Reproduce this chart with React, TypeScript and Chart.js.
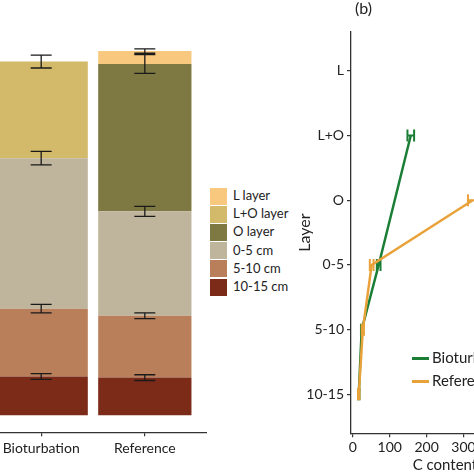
import React, { useEffect, useRef } from 'react';
import { Chart, registerables } from 'chart.js';
Chart.register(...registerables);

const FONT = 'Lato, "Open Sans", sans-serif';

// ---------- (a) stacked C stocks ----------
const stockCategories = ['Bioturbation', 'Reference'];
const stock_10_15 = [10.8, 10.5];
const stock_5_10 = [18.9, 17.2];
const stock_0_5 = [41.9, 29.1];
const stock_O = [0, 41.0];
const stock_LO = [26.9, 0];
const stock_L = [0, 3.6];
const err_10_15 = [0.8, 0.8];
const err_5_10 = [1.2, 0.8];
const err_0_5 = [1.9, 1.4];
const err_O = [null, 2.6];
const err_LO = [1.8, null];
const err_L = [null, 0.6];

const legendLabels = ['L layer', 'L+O layer', 'O layer', '0-5 cm', '5-10 cm', '10-15 cm'];
const legendColors = ['#F8C87E', '#D3BA6A', '#7E7842', '#BFB59D', '#B97F5B', '#7B2B18'];

// ---------- (b) C content profile ----------
const layerLabels = ['L', 'L+O', 'O', '0-5', '5-10', '10-15'];
const bioContent = [null, 157, null, 70, 24, 16];
const bioErr = [null, 9, null, 5, 2, 2];
const refContent = [null, null, 325, 51, 27, 16];
const refErr = [null, null, 13, 5, 3, 2];

const GREEN = '#1B7E36';
const ORANGE = '#E9A23A';

function StockChart() {
  const ref = useRef<HTMLCanvasElement>(null);
  useEffect(() => {
    const layers = [
      { label: '10-15 cm', data: stock_10_15, err: err_10_15, color: legendColors[5] },
      { label: '5-10 cm', data: stock_5_10, err: err_5_10, color: legendColors[4] },
      { label: '0-5 cm', data: stock_0_5, err: err_0_5, color: legendColors[3] },
      { label: 'O layer', data: stock_O, err: err_O, color: legendColors[2] },
      { label: 'L+O layer', data: stock_LO, err: err_LO, color: legendColors[1] },
      { label: 'L layer', data: stock_L, err: err_L, color: legendColors[0] },
    ];
    const errorPlugin = {
      id: 'stackErr',
      afterDatasetsDraw(chart: any) {
        const ctx = chart.ctx;
        const ys = chart.scales.y;
        ctx.save();
        ctx.strokeStyle = '#1a1a1a';
        ctx.lineWidth = 1.3;
        const cum = [0, 0];
        layers.forEach((l, i) => {
          const meta = chart.getDatasetMeta(i);
          l.data.forEach((v, j) => {
            cum[j] += v;
            const e = l.err[j];
            if (e == null || !v) return;
            const x = meta.data[j].x;
            const y1 = ys.getPixelForValue(cum[j] - e);
            const y2 = ys.getPixelForValue(cum[j] + e);
            ctx.beginPath();
            ctx.moveTo(x, y1); ctx.lineTo(x, y2);
            ctx.moveTo(x - 10.5, y1); ctx.lineTo(x + 10.5, y1);
            ctx.moveTo(x - 10.5, y2); ctx.lineTo(x + 10.5, y2);
            ctx.stroke();
          });
        });
        ctx.restore();
      },
    };
    const chart = new Chart(ref.current as HTMLCanvasElement, {
      type: 'bar',
      data: {
        datasets: layers.map((l) => ({
          label: l.label,
          data: l.data.map((v, j) => ({ x: j + 1, y: v })),
          backgroundColor: l.color,
          borderWidth: 0,
          barPercentage: 1,
          categoryPercentage: 0.9,
        })),
      },
      options: {
        responsive: false,
        animation: false,
        layout: { padding: { top: 31, bottom: 13, left: 0, right: 0 } },
        plugins: { legend: { display: false }, tooltip: { enabled: false } },
        scales: {
          x: {
            type: 'linear',
            stacked: true,
            min: 0.4,
            max: 2.6,
            offset: false,
            afterBuildTicks: (s: any) => {
              s.ticks = stockCategories.map((_, i) => ({ value: i + 1 }));
            },
            ticks: {
              callback: (v: any) => stockCategories[Math.round(Number(v)) - 1] ?? '',
              font: { family: FONT, size: 14 },
              color: '#222',
              padding: 4,
              maxRotation: 0,
              autoSkip: false,
            },
            grid: { display: true, offset: false, drawOnChartArea: false, drawTicks: true, tickLength: 4, color: '#333', lineWidth: 1.2 },
            border: { display: true, color: '#333', width: 1.3 },
          },
          y: { stacked: true, display: false, min: -4.7, max: 107 },
        },
      } as any,
      plugins: [errorPlugin],
    } as any);
    return () => chart.destroy();
  }, []);
  return (
    <canvas ref={ref} width={228} height={474}
      style={{ position: 'absolute', left: -21, top: 0, width: 228, height: 474 }} />
  );
}

function ContentChart() {
  const ref = useRef<HTMLCanvasElement>(null);
  useEffect(() => {
    const toPts = (vals: (number | null)[]) =>
      vals.map((v, i) => (v == null ? null : { x: v, y: i })).filter((p) => p) as { x: number; y: number }[];
    const toErr = (vals: (number | null)[], errs: (number | null)[]) =>
      vals.map((v, i) => (v == null ? null : errs[i])).filter((_, i) => vals[i] != null);
    const errSets = [toErr(bioContent, bioErr), toErr(refContent, refErr)];
    const errPlugin = {
      id: 'hErr',
      afterDatasetDraw(chart: any, args: any) {
        const i = args.index;
        const ds = chart.data.datasets[i];
        const meta = args.meta;
        const xs = chart.scales.x;
        const ctx = chart.ctx;
        ctx.save();
        ctx.strokeStyle = ds.borderColor;
        ctx.lineWidth = 2;
        meta.data.forEach((pt: any, k: number) => {
          const e = errSets[i][k];
          if (e == null) return;
          const v = ds.data[k].x;
          const x1 = xs.getPixelForValue(v - e);
          const x2 = xs.getPixelForValue(v + e);
          const y = pt.y;
          ctx.beginPath();
          ctx.moveTo(x1, y); ctx.lineTo(x2, y);
          ctx.moveTo(x1, y - 6); ctx.lineTo(x1, y + 6);
          ctx.moveTo(x2, y - 6); ctx.lineTo(x2, y + 6);
          ctx.stroke();
        });
        ctx.restore();
      },
    };
    const chart = new Chart(ref.current as HTMLCanvasElement, {
      type: 'scatter',
      data: {
        datasets: [
          { label: 'Bioturbation', data: toPts(bioContent), showLine: true, borderColor: GREEN, backgroundColor: GREEN, borderWidth: 2.5, pointRadius: 0, order: 1 },
          { label: 'Reference', data: toPts(refContent), showLine: true, borderColor: ORANGE, backgroundColor: ORANGE, borderWidth: 2.5, pointRadius: 0, order: 0 },
        ],
      },
      options: {
        responsive: false,
        animation: false,
        layout: { padding: { top: 32, left: 0, right: 0, bottom: 0 } },
        plugins: { legend: { display: false }, tooltip: { enabled: false } },
        scales: {
          x: {
            type: 'linear',
            min: -5,
            max: 640,
            ticks: { stepSize: 100, includeBounds: false, font: { family: FONT, size: 14 }, color: '#222', padding: 2, maxRotation: 0 },
            grid: { display: true, drawOnChartArea: false, drawTicks: true, tickLength: 4, color: '#333', lineWidth: 1.2 },
            border: { display: true, color: '#333', width: 1.3 },
            title: { display: true, text: 'C content [g kg⁻¹]', font: { family: FONT, size: 15, lineHeight: 1 }, color: '#222', padding: { top: 0, bottom: 0 } },
          },
          y: {
            type: 'linear',
            reverse: true,
            min: -0.6,
            max: 5.6,
            afterFit: (s: any) => { s.width = 60; },
            ticks: {
              stepSize: 1,
              includeBounds: false,
              callback: (v: any) => layerLabels[Math.round(Number(v))] ?? '',
              font: { family: FONT, size: 14 },
              color: '#222',
              padding: 3,
            },
            grid: { display: true, drawOnChartArea: false, drawTicks: true, tickLength: 4, color: '#333', lineWidth: 1.2 },
            border: { display: true, color: '#333', width: 1.3 },
            title: { display: true, text: 'Layer', font: { family: FONT, size: 16 }, color: '#222', padding: { top: 4, bottom: 4 } },
          },
        },
      } as any,
      plugins: [errPlugin],
    } as any);
    return () => chart.destroy();
  }, []);
  return (
    <canvas ref={ref} width={298} height={473}
      style={{ position: 'absolute', left: 291, top: 0, width: 298, height: 473 }} />
  );
}

export default function App() {
  const txt: React.CSSProperties = { position: 'absolute', fontFamily: FONT, color: '#222', whiteSpace: 'nowrap', lineHeight: 1 };
  return (
    <div style={{ position: 'fixed', left: 0, top: 0, width: 474, height: 474, overflow: 'hidden', background: '#fff' }}>
      <StockChart />
      <ContentChart />
      {legendLabels.map((l, i) => (
        <React.Fragment key={l}>
          <div style={{ position: 'absolute', left: 210, top: 187.5 + i * 18.2, width: 17, height: 17, background: legendColors[i] }} />
          <div style={{ ...txt, left: 233, top: 189 + i * 18.2, fontSize: 13 }}>{l}</div>
        </React.Fragment>
      ))}
      <div style={{ ...txt, left: 355, top: 0, fontSize: 16 }}>(b)</div>
      <div style={{ position: 'absolute', left: 412, top: 357, width: 17, height: 2.5, background: GREEN }} />
      <div style={{ ...txt, left: 432, top: 350, fontSize: 15 }}>Bioturbation</div>
      <div style={{ position: 'absolute', left: 412, top: 380, width: 17, height: 2.5, background: ORANGE }} />
      <div style={{ ...txt, left: 432, top: 373, fontSize: 15 }}>Reference</div>
    </div>
  );
}
